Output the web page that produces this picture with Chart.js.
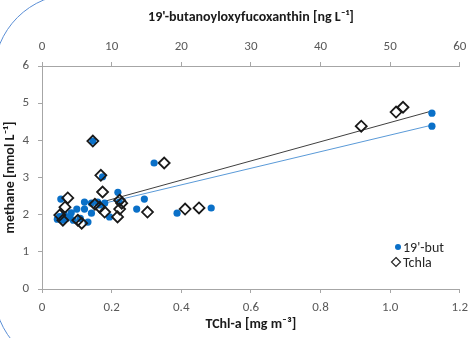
<!DOCTYPE html>
<html>
<head>
<meta charset="utf-8">
<script src="https://cdn.jsdelivr.net/npm/chart.js@4.4.0/dist/chart.umd.min.js"></script>
<style>
  html, body { margin: 0; padding: 0; background: #fff; }
  canvas { display: block; }
</style>
</head>
<body>
<canvas id="chart" width="475" height="338"></canvas>
<script>
// 19'-butanoyloxyfucoxanthin [ng/L] vs methane (top axis)
let butX = [56.0, 56.0, 16.1, 8.7, 7.3, 10.9, 14.7, 13.6, 2.7, 6.1, 7.1, 8.0, 9.0, 11.1, 5.0, 6.1,
            7.1, 9.7, 6.6, 19.4, 24.3, 8.3, 2.5, 3.0, 3.5, 4.0, 4.5, 3.2, 2.2, 4.2, 5.5];
let butY = [4.73, 4.38, 3.39, 3.02, 3.98, 2.60, 2.42, 2.15, 2.42, 2.34, 2.31, 2.34, 2.31, 2.34, 2.15, 2.15,
            2.04, 1.94, 1.80, 2.04, 2.18, 2.26, 1.95, 1.85, 1.90, 1.95, 1.85, 2.00, 1.88, 2.05, 1.90];

// TChl-a [mg/m3] vs methane (bottom axis)
let tchlaX = [0.351, 0.169, 0.174, 0.074, 0.066, 0.223, 0.229, 0.223, 0.217, 0.152, 0.166, 0.180,
              0.303, 0.051, 0.060, 0.103, 0.114, 0.411, 0.451, 0.917, 1.017, 1.037, 0.146];
let tchlaY = [3.39, 3.06, 2.61, 2.45, 2.20, 2.39, 2.31, 2.15, 1.94, 2.28, 2.20, 2.07,
              2.07, 1.99, 1.85, 1.85, 1.77, 2.15, 2.18, 4.38, 4.76, 4.89, 3.98];

// linear trend lines (end points)
let trendTchlaX = [0.18, 1.12];
let trendTchlaY = [2.36, 4.79];
let trendButX = [9.0, 56.0];
let trendButY = [2.31, 4.41];

let legendLabels = ["19'-but", 'Tchla'];

const FONT = 'Carlito, Lato, "Liberation Sans", sans-serif';
const BLUE = '#0a70c8';
const AXIS = '#a6a6a6';

function toPoints(xs, ys) {
    return xs.map((x, i) => ({ x: x, y: ys[i] }));
}

const framePlugin = {
    id: 'frame',
    beforeDraw(chart) {
        const c = chart.ctx;
        c.save();
        c.fillStyle = '#fff';
        c.fillRect(0, 0, chart.width, chart.height);
        // rounded frame corners from the source page
        c.strokeStyle = '#5b8fd6';
        c.lineWidth = 1;
        c.beginPath();
        c.arc(74, 74, 80, Math.PI, 1.5 * Math.PI);
        c.stroke();
        c.beginPath();
        c.arc(74, 290, 80, 0.5 * Math.PI, Math.PI);
        c.stroke();
        c.restore();
    }
};

const legendPlugin = {
    id: 'insideLegend',
    afterDraw(chart) {
        const c = chart.ctx;
        c.save();
        c.font = '14px ' + FONT;
        c.textBaseline = 'middle';
        c.textAlign = 'left';
        // dot
        c.fillStyle = BLUE;
        c.beginPath();
        c.arc(398, 247, 3, 0, 2 * Math.PI);
        c.fill();
        c.fillStyle = '#262626';
        c.fillText(legendLabels[0], 403, 248);
        // diamond
        c.strokeStyle = '#262626';
        c.lineWidth = 1.2;
        c.beginPath();
        c.moveTo(396, 257.5);
        c.lineTo(400.5, 262);
        c.lineTo(396, 266.5);
        c.lineTo(391.5, 262);
        c.closePath();
        c.stroke();
        c.fillText(legendLabels[1], 403, 263);
        c.restore();
    }
};

const tickStyle = { color: '#595959', font: { family: FONT, size: 13 } };
const titleFont = { family: FONT, size: 14, weight: 'bold' };

const ctx = document.getElementById('chart').getContext('2d');
const myChart = new Chart(ctx, {
    type: 'scatter',
    data: {
        datasets: [{
            label: legendLabels[1],
            data: toPoints(tchlaX, tchlaY),
            xAxisID: 'x',
            pointStyle: 'rectRot',
            pointRadius: 5.5,
            backgroundColor: 'rgba(255,255,255,0)',
            borderColor: '#1a1a1a',
            borderWidth: 1.8,
            order: 1
        }, {
            label: legendLabels[0],
            data: toPoints(butX, butY),
            xAxisID: 'x2',
            pointStyle: 'circle',
            pointRadius: 3.6,
            backgroundColor: BLUE,
            borderColor: BLUE,
            borderWidth: 0,
            order: 2
        }, {
            label: 'trend Tchla',
            data: toPoints(trendTchlaX, trendTchlaY),
            xAxisID: 'x',
            showLine: true,
            pointRadius: 0,
            borderColor: '#404040',
            borderWidth: 1,
            order: 3
        }, {
            label: 'trend 19but',
            data: toPoints(trendButX, trendButY),
            xAxisID: 'x2',
            showLine: true,
            pointRadius: 0,
            borderColor: '#5a9ad8',
            borderWidth: 1,
            order: 4
        }]
    },
    options: {
        responsive: false,
        animation: false,
        devicePixelRatio: 1,
        layout: { padding: { right: 13 } },
        plugins: {
            legend: { display: false },
            tooltip: { enabled: false }
        },
        scales: {
            x: {
                type: 'linear',
                position: 'bottom',
                min: 0,
                max: 1.2,
                ticks: Object.assign({ stepSize: 0.2, padding: 7 }, tickStyle),
                grid: { drawOnChartArea: false, tickLength: 4, color: AXIS },
                border: { color: AXIS },
                title: { display: true, text: 'TChl-a [mg m⁻³]', color: '#1a1a1a', font: titleFont, padding: { top: 0, bottom: 5 } },
                afterFit: s => { s.height = 49; }
            },
            x2: {
                type: 'linear',
                position: 'top',
                min: 0,
                max: 60,
                ticks: Object.assign({ stepSize: 10, padding: 7 }, tickStyle),
                grid: { drawOnChartArea: false, tickLength: 4, color: AXIS },
                border: { color: AXIS },
                title: { display: true, text: "19'-butanoyloxyfucoxanthin [ng L⁻¹]", color: '#1a1a1a', font: titleFont, padding: { top: 9, bottom: 0 } },
                afterFit: s => { s.height = 66; }
            },
            y: {
                min: 0,
                max: 6,
                ticks: Object.assign({ stepSize: 1, padding: 9 }, tickStyle),
                grid: { drawOnChartArea: false, tickLength: 4, color: AXIS },
                border: { color: AXIS },
                title: { display: true, text: 'methane [nmol L⁻¹]', color: '#1a1a1a', font: titleFont, padding: { top: 2, bottom: 0 } },
                afterFit: s => { s.width = 42; }
            }
        }
    },
    plugins: [framePlugin, legendPlugin]
});
</script>
</body>
</html>
